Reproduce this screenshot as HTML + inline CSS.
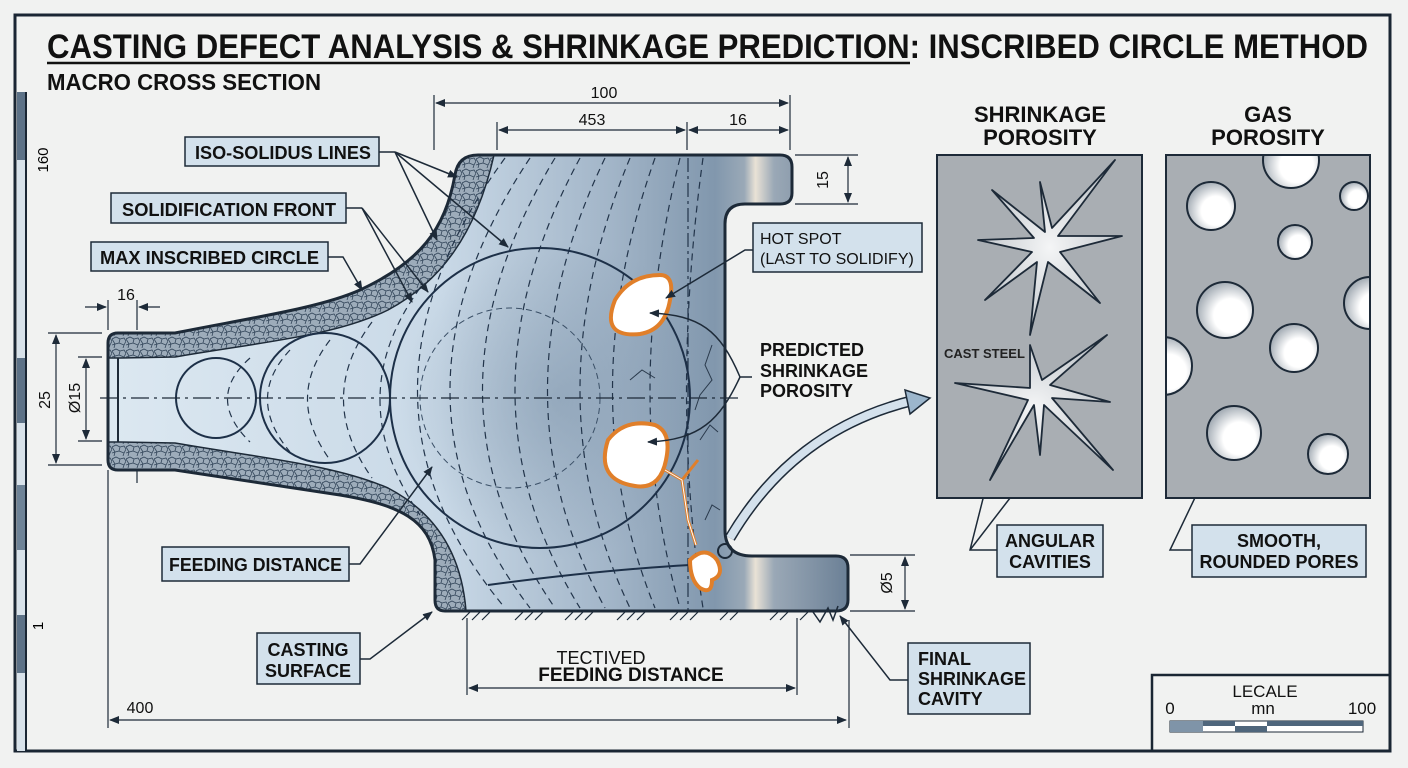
<!DOCTYPE html>
<html><head><meta charset="utf-8"><style>
html,body{margin:0;padding:0;background:#f1f2f1;}
svg{display:block;}
text{font-family:"Liberation Sans",sans-serif;}
</style></head><body>
<svg width="1408" height="768" viewBox="0 0 1408 768" xmlns="http://www.w3.org/2000/svg">
<defs>
<linearGradient id="body" x1="108" y1="0" x2="848" y2="0" gradientUnits="userSpaceOnUse">
<stop offset="0" stop-color="#dce8f1"/><stop offset="0.45" stop-color="#c9d9e7"/>
<stop offset="0.68" stop-color="#a2b5c8"/><stop offset="0.82" stop-color="#8197ad"/>
<stop offset="0.86" stop-color="#9aa9b7"/><stop offset="0.875" stop-color="#e9e2d6"/>
<stop offset="0.90" stop-color="#9aa8b6"/><stop offset="1" stop-color="#6b8096"/>
</linearGradient>
<radialGradient id="dark" cx="560" cy="400" r="160" gradientUnits="userSpaceOnUse">
<stop offset="0" stop-color="#8096ac" stop-opacity="0.55"/><stop offset="1" stop-color="#8096ac" stop-opacity="0"/>
</radialGradient>
<pattern id="grain" width="14" height="12" patternUnits="userSpaceOnUse">
<rect width="14" height="12" fill="#9dacba"/>
<path d="M0,3 L4,1 L8,3 L7,7 L3,8 Z M8,3 L12,2 L14,5 L12,9 L7,7 M3,8 L2,12 M12,9 L11,12 M0,9 L3,8" fill="none" stroke="#33465a" stroke-width="0.8"/>
</pattern>
<radialGradient id="pore" cx="0.6" cy="0.6" r="0.6">
<stop offset="0.5" stop-color="#ffffff"/><stop offset="1" stop-color="#a8b0b8"/>
</radialGradient>
<radialGradient id="star" cx="0.5" cy="0.5" r="0.5">
<stop offset="0" stop-color="#f4f5f6"/><stop offset="1" stop-color="#c3c8cd"/>
</radialGradient>
<marker id="ar" markerWidth="10" markerHeight="8" refX="9" refY="4" orient="auto" markerUnits="userSpaceOnUse">
<path d="M0,0 L10,4 L0,8 Z" fill="#1d2a38"/></marker>
<marker id="as" markerWidth="10" markerHeight="8" refX="1" refY="4" orient="auto" markerUnits="userSpaceOnUse">
<path d="M10,0 L0,4 L10,8 Z" fill="#1d2a38"/></marker>
<path id="cast" d="M118,333 L175,333 C250,318 320,308 360,290 C420,262 445,230 455,175 Q458,155 478,155 L780,155 Q792,155 792,167 L792,193 Q792,204 780,204 L745,204 Q725,204 725,224 L725,530 Q725,556 752,556 L836,556 Q848,556 848,568 L848,600 Q848,611 836,611 L445,611 Q435,611 435,600 L435,560 C430,520 400,505 340,495 L175,470 L118,470 Q108,470 108,460 L108,343 Q108,333 118,333 Z"/>
</defs>

<!-- frame -->
<rect x="15" y="15" width="1375" height="736" fill="none" stroke="#1a2633" stroke-width="3"/>
<rect x="17" y="92" width="9" height="659" fill="#d8e2ea"/>
<rect x="17" y="92" width="9" height="68" fill="#5d7287"/>
<rect x="17" y="358" width="9" height="65" fill="#5d7287"/>
<rect x="17" y="485" width="9" height="65" fill="#6e8397"/>
<rect x="17" y="615" width="9" height="58" fill="#5d7287"/>
<line x1="26" y1="92" x2="26" y2="751" stroke="#1a2633" stroke-width="2"/>
<text x="48" y="160" font-size="15" transform="rotate(-90 48 160)" text-anchor="middle">160</text>
<text x="43" y="626" font-size="15" transform="rotate(-90 43 626)" text-anchor="middle">1</text>

<!-- title -->
<text x="47" y="58" font-size="34" font-weight="bold" textLength="1321" lengthAdjust="spacingAndGlyphs" fill="#111">CASTING DEFECT ANALYSIS &amp; SHRINKAGE PREDICTION: INSCRIBED CIRCLE METHOD</text>
<line x1="47" y1="63" x2="910" y2="63" stroke="#111" stroke-width="2.5"/>
<text x="47" y="90" font-size="23" font-weight="bold" textLength="274" lengthAdjust="spacingAndGlyphs" fill="#111">MACRO CROSS SECTION</text>

<!-- casting body -->
<use href="#cast" fill="url(#body)"/>
<path d="M380,200 L725,200 L725,611 L380,611 Z" fill="url(#dark)"/>
<!-- shell bands -->
<path d="M108,358 L108,343 Q108,333 118,333 L175,333 C250,318 320,308 360,290 C420,262 445,230 455,175 Q458,155 478,155 L494,155 C476,235 440,282 388,310 C335,336 262,342 175,357 L120,358 Z" fill="url(#grain)" stroke="#1d2a38" stroke-width="1.5"/>
<path d="M108,442 L120,442 L175,443 C262,458 335,465 388,488 C440,515 462,560 466,611 L445,611 Q435,611 435,600 L435,560 C430,520 400,505 340,495 L175,470 L118,470 Q108,470 108,460 Z" fill="url(#grain)" stroke="#1d2a38" stroke-width="1.5"/>

<!-- iso-solidus dashed lines -->
<g fill="none" stroke="#22344a" stroke-width="1.2" stroke-dasharray="7,5">
<path d="M505,158 Q330,398 505,608"/>
<path d="M530,158 Q370,398 530,608"/>
<path d="M555,158 Q410,398 555,608"/>
<path d="M580,158 Q450,398 580,608"/>
<path d="M605,158 Q490,398 605,608"/>
<path d="M630,158 Q530,398 630,608"/>
<path d="M655,158 Q570,398 655,608"/>
<path d="M680,158 Q620,398 680,608"/>
<path d="M703,158 Q670,398 703,608"/>
<path d="M688,158 L688,611" stroke-dasharray="14,4,3,4"/>
<path d="M250,358 Q205,398 250,442"/>
<path d="M290,350 Q245,398 290,452"/>
<path d="M330,340 Q285,398 330,460"/>
<path d="M372,322 Q315,398 372,478"/>
<path d="M420,288 Q340,398 420,515"/>
</g>
<circle cx="510" cy="398" r="90" fill="none" stroke="#3a4f66" stroke-width="1" stroke-dasharray="6,4"/>
<!-- inscribed circles -->
<g fill="none" stroke="#1d3048" stroke-width="2">
<circle cx="216" cy="398" r="40"/>
<circle cx="325" cy="398" r="65"/>
<circle cx="540" cy="398" r="150"/>
<path d="M488,585 Q600,570 690,565"/>
</g>
<line x1="100" y1="398" x2="740" y2="398" stroke="#1d2a38" stroke-width="1.2" stroke-dasharray="18,5,3,5"/>

<!-- cracks -->
<g fill="none" stroke="#2a3a4c" stroke-width="1">
<path d="M712,345 L705,365 L712,380 L700,395 L695,410"/>
<path d="M630,380 L642,370 L655,378"/>
<path d="M700,440 L710,425 L718,432"/>
<path d="M705,520 L712,505 L720,510"/>
</g>
<!-- orange porosity -->
<g fill="#fff" stroke="#e07f2a" stroke-width="4">
<path d="M615,300 Q630,275 660,275 Q675,275 670,300 Q665,330 640,334 Q600,338 615,300 Z"/>
<path d="M608,440 Q625,418 655,425 Q672,432 666,460 Q660,490 635,486 Q595,480 608,440 Z"/>
<path d="M690,560 Q705,545 717,560 Q725,575 712,580 Q712,595 700,588 Q690,580 690,560 Z"/>
</g>
<path d="M665,470 L682,480 L688,520 L696,545 M682,480 L698,460" fill="none" stroke="#e07f2a" stroke-width="3"/>
<path d="M665,470 L682,480 L688,520 L696,545" fill="none" stroke="#fff" stroke-width="1"/>

<!-- outline -->
<use href="#cast" fill="none" stroke="#1d2a38" stroke-width="3"/>
<path d="M118,358 L118,442" stroke="#1d2a38" stroke-width="2"/>
<circle cx="725" cy="551" r="7" fill="none" stroke="#1d2a38" stroke-width="2"/>
<!-- hatching -->
<g stroke="#1d2a38" stroke-width="1.2">
<path d="M462,620 L470,612 M472,620 L480,612 M482,620 L490,612 M515,620 L523,612 M525,620 L533,612 M535,620 L543,612 M565,620 L573,612 M575,620 L583,612 M585,620 L593,612 M617,620 L625,612 M627,620 L635,612 M637,620 L645,612 M670,620 L678,612 M680,620 L688,612 M690,620 L698,612 M720,620 L728,612 M730,620 L738,612 M770,620 L778,612 M780,620 L788,612 M800,620 L808,612"/>
</g>
<path d="M813,612 L820,622 L828,608 L833,620 L838,606" fill="none" stroke="#1d2a38" stroke-width="1.5"/>

<!-- big arrow -->
<path d="M730,538 C770,470 830,420 915,400" fill="none" stroke="#1d2a38" stroke-width="11"/>
<path d="M730,538 C770,470 830,420 915,400" fill="none" stroke="#d4e1ec" stroke-width="8"/>
<path d="M905,390 L930,398 L910,414 Z" fill="#9cb6cc" stroke="#1d2a38" stroke-width="1.5"/>

<!-- dimensions -->
<g stroke="#1d2a38" stroke-width="1.2" fill="none">
<line x1="434" y1="95" x2="434" y2="150"/><line x1="790" y1="95" x2="790" y2="150"/>
<line x1="497" y1="122" x2="497" y2="150"/><line x1="687" y1="122" x2="687" y2="150"/>
<line x1="436" y1="103" x2="788" y2="103" marker-start="url(#as)" marker-end="url(#ar)"/>
<line x1="499" y1="130" x2="685" y2="130" marker-start="url(#as)" marker-end="url(#ar)"/>
<line x1="689" y1="130" x2="788" y2="130" marker-start="url(#as)" marker-end="url(#ar)"/>
<line x1="795" y1="155" x2="858" y2="155"/><line x1="795" y1="204" x2="858" y2="204"/>
<line x1="848" y1="157" x2="848" y2="202" marker-start="url(#as)" marker-end="url(#ar)"/>
<line x1="850" y1="555" x2="915" y2="555"/><line x1="850" y1="611" x2="915" y2="611"/>
<line x1="905" y1="557" x2="905" y2="609" marker-start="url(#as)" marker-end="url(#ar)"/>
<line x1="108" y1="300" x2="108" y2="330"/><line x1="137" y1="300" x2="137" y2="330"/>
<line x1="85" y1="307" x2="106" y2="307" marker-end="url(#ar)"/><line x1="160" y1="307" x2="139" y2="307" marker-end="url(#ar)"/>
<line x1="48" y1="333" x2="102" y2="333"/><line x1="48" y1="465" x2="102" y2="465"/>
<line x1="56" y1="335" x2="56" y2="463" marker-start="url(#as)" marker-end="url(#ar)"/>
<line x1="78" y1="357" x2="102" y2="357"/><line x1="78" y1="441" x2="102" y2="441"/>
<line x1="86" y1="359" x2="86" y2="439" marker-start="url(#as)" marker-end="url(#ar)"/>
<line x1="108" y1="470" x2="108" y2="728"/><line x1="137" y1="470" x2="137" y2="483"/>
<line x1="110" y1="720" x2="846" y2="720" marker-start="url(#as)" marker-end="url(#ar)"/>
<line x1="849" y1="620" x2="849" y2="728"/>
<line x1="467" y1="618" x2="467" y2="695"/><line x1="797" y1="618" x2="797" y2="695"/>
<line x1="469" y1="688" x2="795" y2="688" marker-start="url(#as)" marker-end="url(#ar)"/>
</g>
<g font-size="16" fill="#111" text-anchor="middle">
<text x="604" y="98">100</text><text x="592" y="125">453</text><text x="738" y="125">16</text>
<text x="126" y="300">16</text>
<text x="828" y="180" transform="rotate(-90 828 180)">15</text>
<text x="892" y="583" transform="rotate(-90 892 583)">Ø5</text>
<text x="50" y="400" transform="rotate(-90 50 400)">25</text>
<text x="80" y="398" transform="rotate(-90 80 398)">Ø15</text>
<text x="140" y="713">400</text>
</g>
<g font-size="19" font-weight="bold" fill="#111" text-anchor="middle">
<text x="601" y="664" font-weight="normal" font-size="18">TECTIVED</text>
<text x="631" y="681">FEEDING DISTANCE</text>
</g>

<!-- labels -->
<g fill="#d3e1ec" stroke="#1d2a38" stroke-width="1.5">
<rect x="185" y="137" width="194" height="29"/>
<rect x="111" y="193" width="235" height="30"/>
<rect x="91" y="242" width="237" height="29"/>
<rect x="162" y="547" width="187" height="34"/>
<rect x="257" y="633" width="103" height="51"/>
<rect x="753" y="223" width="169" height="49"/>
<rect x="908" y="643" width="122" height="71"/>
<rect x="997" y="525" width="106" height="52"/>
<rect x="1192" y="525" width="174" height="52"/>
</g>
<g font-size="18" font-weight="bold" fill="#111">
<text x="195" y="159" textLength="176" lengthAdjust="spacingAndGlyphs">ISO-SOLIDUS LINES</text>
<text x="122" y="216" textLength="214" lengthAdjust="spacingAndGlyphs">SOLIDIFICATION FRONT</text>
<text x="100" y="264" textLength="219" lengthAdjust="spacingAndGlyphs">MAX INSCRIBED CIRCLE</text>
<text x="169" y="571" textLength="173" lengthAdjust="spacingAndGlyphs">FEEDING DISTANCE</text>
<text x="308" y="656" text-anchor="middle">CASTING</text>
<text x="308" y="677" text-anchor="middle">SURFACE</text>
<text x="918" y="665">FINAL</text><text x="918" y="685">SHRINKAGE</text><text x="918" y="705">CAVITY</text>
<text x="1050" y="547" text-anchor="middle">ANGULAR</text><text x="1050" y="568" text-anchor="middle">CAVITIES</text>
<text x="1279" y="547" text-anchor="middle">SMOOTH,</text><text x="1279" y="568" text-anchor="middle">ROUNDED PORES</text>
<text x="760" y="356">PREDICTED</text><text x="760" y="377">SHRINKAGE</text><text x="760" y="397">POROSITY</text>
</g>
<g font-size="16" fill="#111">
<text x="760" y="244">HOT SPOT</text><text x="760" y="264">(LAST TO SOLIDIFY)</text>
</g>
<!-- leaders -->
<g stroke="#1d2a38" stroke-width="1.5" fill="none">
<path d="M379,152 L395,152"/>
<path d="M395,152 L457,177" marker-end="url(#ar)"/>
<path d="M395,152 L437,240" marker-end="url(#ar)"/>
<path d="M395,152 L508,247" marker-end="url(#ar)"/>
<path d="M346,208 L362,208"/>
<path d="M362,208 L412,302" marker-end="url(#ar)"/>
<path d="M362,208 L428,292" marker-end="url(#ar)"/>
<path d="M328,257 L343,257 L362,290" marker-end="url(#ar)"/>
<path d="M349,564 L360,564 L432,467" marker-end="url(#ar)"/>
<path d="M360,659 L370,659 L432,612" marker-end="url(#ar)"/>
<path d="M753,250 L745,250 L666,298" marker-end="url(#ar)"/>
<path d="M752,377 L740,377 C720,330 700,315 650,313" marker-end="url(#ar)"/>
<path d="M740,377 C720,420 700,440 648,442" marker-end="url(#ar)"/>
<path d="M908,680 L890,680 L840,616" marker-end="url(#ar)"/>
<path d="M997,550 L970,550 L988,479" marker-end="url(#ar)"/>
<path d="M970,550 L1037,463" marker-end="url(#ar)"/>
<path d="M1192,550 L1170,550 L1213,460" marker-end="url(#ar)"/>
</g>

<!-- right panels -->
<g font-size="22" font-weight="bold" fill="#111" text-anchor="middle">
<text x="1040" y="122">SHRINKAGE</text><text x="1040" y="145">POROSITY</text>
<text x="1268" y="122">GAS</text><text x="1268" y="145">POROSITY</text>
</g>
<rect x="937" y="155" width="205" height="343" fill="#a9aeb3" stroke="#1d2a38" stroke-width="2"/>
<clipPath id="gp"><rect x="1166" y="155" width="204" height="343"/></clipPath>
<rect x="1166" y="155" width="204" height="343" fill="#a9aeb3"/>
<g clip-path="url(#gp)" fill="url(#pore)" stroke="#1d2a38" stroke-width="2">
<circle cx="1211" cy="206" r="24"/><circle cx="1291" cy="160" r="28"/>
<circle cx="1354" cy="196" r="14"/><circle cx="1295" cy="242" r="17"/>
<circle cx="1225" cy="310" r="28"/><circle cx="1370" cy="303" r="26"/>
<circle cx="1294" cy="348" r="24"/><circle cx="1163" cy="366" r="29"/>
<circle cx="1234" cy="433" r="27"/><circle cx="1328" cy="454" r="20"/>
</g>
<rect x="1166" y="155" width="204" height="343" fill="none" stroke="#1d2a38" stroke-width="2"/>
<g fill="url(#star)" stroke="#1d2a38" stroke-width="1.8" stroke-linejoin="round">
<path d="M1115,160 L1058,236 L1122,236 L1060,252 L1100,303 L1048,262 L1030,335 L1037,262 L985,300 L1032,252 L978,240 L1034,238 L992,190 L1045,232 L1040,182 L1052,228 Z"/>
<path d="M1107,335 L1050,385 L1110,402 L1052,398 L1113,470 L1044,405 L1040,455 L1034,405 L990,480 L1028,400 L955,383 L1030,388 L1030,345 L1042,380 Z"/>
</g>
<text x="944" y="358" font-size="13" font-weight="bold" fill="#222">CAST STEEL</text>

<!-- scale box -->
<rect x="1152" y="675" width="238" height="76" fill="none" stroke="#1a2633" stroke-width="2.5"/>
<g font-size="17" fill="#111" text-anchor="middle">
<text x="1265" y="697">LECALE</text><text x="1170" y="714">0</text><text x="1263" y="714">mn</text><text x="1362" y="714">100</text>
</g>
<rect x="1170" y="721" width="193" height="11" fill="#fff" stroke="#1d2a38" stroke-width="1"/>
<rect x="1203" y="721" width="32" height="5" fill="#4f667c"/>
<rect x="1235" y="726" width="32" height="6" fill="#4f667c"/>
<rect x="1267" y="721" width="96" height="5" fill="#4f667c"/>
<rect x="1170" y="721" width="33" height="11" fill="#7f94a8"/>
</svg>
</body></html>
